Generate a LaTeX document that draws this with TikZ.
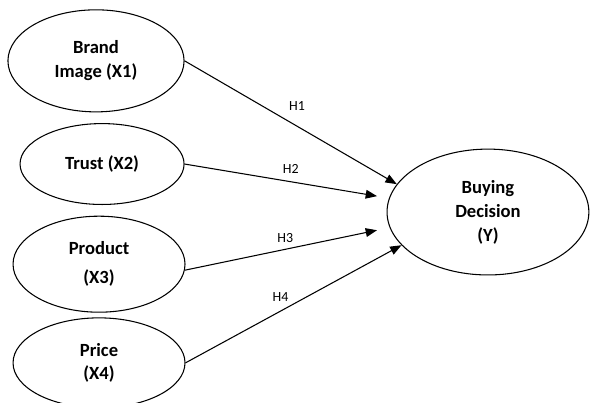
\documentclass[tikz,border=0pt]{standalone}
\usepackage{fontspec}
\setmainfont{Carlito}
\usetikzlibrary{shapes.geometric, arrows.meta}

\begin{document}
\begin{tikzpicture}[
    var/.style={ellipse, draw, line width=0.8pt, inner sep=0pt, align=center, font=\bfseries\fontsize{14}{18}\selectfont},
    arrow/.style={-{Triangle[length=3mm, width=2.3mm]}, line width=0.8pt},
    label/.style={font=\fontsize{10.5}{12}\selectfont, inner sep=0pt},
]
\useasboundingbox (0,0) rectangle (15.61,-10.66);

\node[var, minimum width=4.66cm, minimum height=2.70cm] (brand) at (2.54, -1.61) {Brand\\Image (X1)};
\node[var, minimum width=4.34cm, minimum height=2.14cm] (trust) at (2.70, -4.34) {Trust (X2)};
\node[var, minimum width=4.55cm, minimum height=2.54cm] (product) at (2.62, -6.99) {Product\\[4pt](X3)};
\node[var, minimum width=4.55cm, minimum height=2.38cm] (price) at (2.62, -9.60) {Price\\(X4)};
\node[var, minimum width=5.34cm, minimum height=3.33cm] (decision) at (12.91, -5.61) {Buying\\Decision\\(Y)};

\draw[arrow] (brand.east) -- node[label, above=0.41cm, pos=0.53]{H1} (decision.163);
\draw[arrow, shorten >=0.32cm] (trust.east) -- node[label, above=0.2cm, pos=0.52]{H2} (decision.172);
\draw[arrow, shorten >=0.34cm] (product.356) -- node[label, above=0.17cm, pos=0.49]{H3} (decision.189);
\draw[arrow] (price.east) -- node[label, above=0.25cm, pos=0.44]{H4} (decision.201);

\end{tikzpicture}
\end{document}
